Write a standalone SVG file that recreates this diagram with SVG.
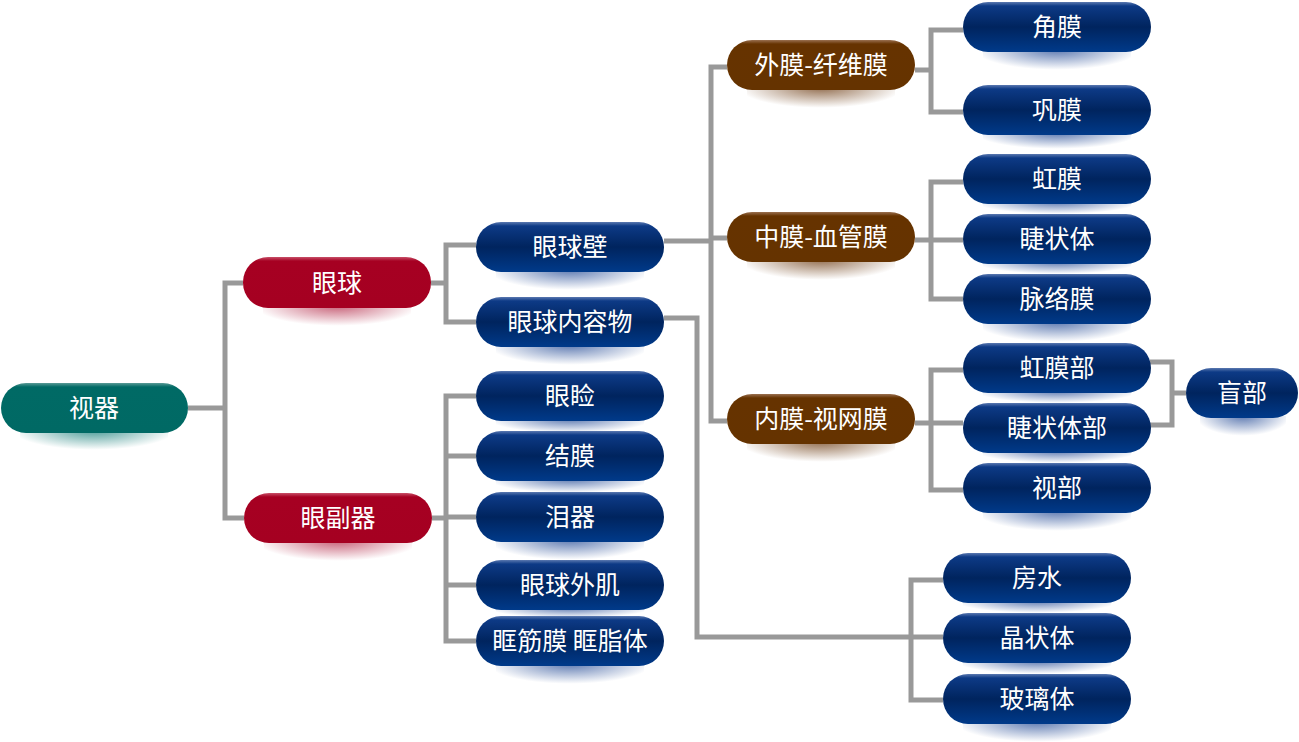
<svg xmlns="http://www.w3.org/2000/svg" width="1299" height="742" viewBox="0 0 1299 742">
<defs>
<style>
.c{fill:none;stroke:#999999;stroke-width:5;stroke-linejoin:miter}
.t{font-family:"Noto Sans CJK SC","Noto Sans",sans-serif;font-size:25px;fill:#ffffff;text-anchor:middle;dominant-baseline:central}
.bl{fill:url(#gB)}.rd{fill:url(#gR)}.br{fill:url(#gN)}.tl{fill:url(#gT)}
.sB{fill:url(#sB)}.sR{fill:url(#sR)}.sN{fill:url(#sN)}.sT{fill:url(#sT)}
</style>
<linearGradient id="gB" x1="0" y1="0" x2="0" y2="1">
<stop offset="0" stop-color="#5a78b0"/><stop offset="0.08" stop-color="#0d3a86"/><stop offset="0.5" stop-color="#00245e"/><stop offset="1" stop-color="#003a8a"/>
</linearGradient>
<linearGradient id="gR" x1="0" y1="0" x2="0" y2="1">
<stop offset="0" stop-color="#c85068"/><stop offset="0.08" stop-color="#a60022"/><stop offset="1" stop-color="#a50021"/>
</linearGradient>
<linearGradient id="gN" x1="0" y1="0" x2="0" y2="1">
<stop offset="0" stop-color="#9a7050"/><stop offset="0.08" stop-color="#663300"/><stop offset="1" stop-color="#653300"/>
</linearGradient>
<linearGradient id="gT" x1="0" y1="0" x2="0" y2="1">
<stop offset="0" stop-color="#5a9a96"/><stop offset="0.08" stop-color="#006a65"/><stop offset="1" stop-color="#006964"/>
</linearGradient>
<radialGradient id="sB" cx="0.5" cy="0" r="0.55" gradientTransform="translate(0.5 0) scale(1 1.8) translate(-0.5 0)"><stop offset="0" stop-color="#2a4f98" stop-opacity="0.75"/><stop offset="1" stop-color="#2a4f98" stop-opacity="0"/></radialGradient>
<radialGradient id="sR" cx="0.5" cy="0" r="0.55" gradientTransform="translate(0.5 0) scale(1 1.8) translate(-0.5 0)"><stop offset="0" stop-color="#b02040" stop-opacity="0.7"/><stop offset="1" stop-color="#b02040" stop-opacity="0"/></radialGradient>
<radialGradient id="sN" cx="0.5" cy="0" r="0.55" gradientTransform="translate(0.5 0) scale(1 1.8) translate(-0.5 0)"><stop offset="0" stop-color="#704018" stop-opacity="0.75"/><stop offset="1" stop-color="#704018" stop-opacity="0"/></radialGradient>
<radialGradient id="sT" cx="0.5" cy="0" r="0.55" gradientTransform="translate(0.5 0) scale(1 1.8) translate(-0.5 0)"><stop offset="0" stop-color="#107a75" stop-opacity="0.75"/><stop offset="1" stop-color="#107a75" stop-opacity="0"/></radialGradient>
</defs>
<g id="connectors">
<path class="c" d="M188 408H225M243 283H225V518H244"/>
<path class="c" d="M431 283H446M476 245H446V322H476"/>
<path class="c" d="M432 518H446M476 396H446V641H476M446 456H476M446 517H476M446 585H476"/>
<path class="c" d="M664 241H711M727 67H711V421H727M711 238H727"/>
<path class="c" d="M664 318H697V637H911M943 580H911V700H943M911 637H943"/>
<path class="c" d="M915 70H931M963 30H931V112H963"/>
<path class="c" d="M915 240H931M963 182H931V299H963M931 240H963"/>
<path class="c" d="M915 423H931M963 370H931V490H963M931 423H963"/>
<path class="c" d="M1150 362H1172V425H1150M1172 393H1186"/>
</g>
<g id="n-shiqi"><rect class="sT" x="20" y="430" width="148" height="20"/><rect class="tl" x="1" y="383" width="187" height="50" rx="25"/><text class="t" x="94" y="406">视器</text></g>
<g id="n-yanqiu"><rect class="sR" x="263" y="306" width="148" height="20"/><rect class="rd" x="243" y="257" width="188" height="51" rx="25"/><text class="t" x="337" y="281">眼球</text></g>
<g id="n-yanfuqi"><rect class="sR" x="264" y="541" width="148" height="20"/><rect class="rd" x="244" y="493" width="188" height="50" rx="25"/><text class="t" x="338" y="516">眼副器</text></g>
<g id="n-yanqiubi"><rect class="sB" x="496" y="270" width="148" height="20"/><rect class="bl" x="476" y="222" width="188" height="50" rx="25"/><text class="t" x="570" y="245">眼球壁</text></g>
<g id="n-neirongwu"><rect class="sB" x="496" y="345" width="148" height="20"/><rect class="bl" x="476" y="297" width="188" height="50" rx="25"/><text class="t" x="570" y="320">眼球内容物</text></g>
<g id="n-yanjian"><rect class="sB" x="496" y="419" width="148" height="14"/><rect class="bl" x="476" y="371" width="188" height="50" rx="25"/><text class="t" x="570" y="394">眼睑</text></g>
<g id="n-jiemo"><rect class="sB" x="496" y="479" width="148" height="14"/><rect class="bl" x="476" y="431" width="188" height="50" rx="25"/><text class="t" x="570" y="454">结膜</text></g>
<g id="n-leiqi"><rect class="sB" x="496" y="540" width="148" height="20"/><rect class="bl" x="476" y="492" width="188" height="50" rx="25"/><text class="t" x="570" y="515">泪器</text></g>
<g id="n-waiji"><rect class="sB" x="496" y="608" width="148" height="10"/><rect class="bl" x="476" y="560" width="188" height="50" rx="25"/><text class="t" x="570" y="583">眼球外肌</text></g>
<g id="n-kuang"><rect class="sB" x="496" y="664" width="148" height="20"/><rect class="bl" x="476" y="616" width="188" height="50" rx="25"/><text class="t" x="570" y="639">眶筋膜 眶脂体</text></g>
<g id="n-waimo"><rect class="sN" x="747" y="88" width="148" height="20"/><rect class="br" x="727" y="40" width="188" height="50" rx="25"/><text class="t" x="821" y="63">外膜-纤维膜</text></g>
<g id="n-zhongmo"><rect class="sN" x="747" y="260" width="148" height="20"/><rect class="br" x="727" y="212" width="188" height="50" rx="25"/><text class="t" x="821" y="235">中膜-血管膜</text></g>
<g id="n-neimo"><rect class="sN" x="747" y="442" width="148" height="20"/><rect class="br" x="727" y="394" width="188" height="50" rx="25"/><text class="t" x="821" y="417">内膜-视网膜</text></g>
<g id="n-jiaomo"><rect class="sB" x="983" y="50" width="148" height="20"/><rect class="bl" x="963" y="2" width="188" height="50" rx="25"/><text class="t" x="1057" y="25">角膜</text></g>
<g id="n-gongmo"><rect class="sB" x="983" y="133" width="148" height="16"/><rect class="bl" x="963" y="85" width="188" height="50" rx="25"/><text class="t" x="1057" y="108">巩膜</text></g>
<g id="n-hongmo"><rect class="sB" x="983" y="202" width="148" height="12"/><rect class="bl" x="963" y="154" width="188" height="50" rx="25"/><text class="t" x="1057" y="177">虹膜</text></g>
<g id="n-jiezhuangti"><rect class="sB" x="983" y="262" width="148" height="12"/><rect class="bl" x="963" y="214" width="188" height="50" rx="25"/><text class="t" x="1057" y="237">睫状体</text></g>
<g id="n-mailuomo"><rect class="sB" x="983" y="322" width="148" height="20"/><rect class="bl" x="963" y="274" width="188" height="50" rx="25"/><text class="t" x="1057" y="297">脉络膜</text></g>
<g id="n-hongmobu"><rect class="sB" x="983" y="391" width="148" height="12"/><rect class="bl" x="963" y="343" width="188" height="50" rx="25"/><text class="t" x="1057" y="366">虹膜部</text></g>
<g id="n-jiezhuangtibu"><rect class="sB" x="983" y="451" width="148" height="12"/><rect class="bl" x="963" y="403" width="188" height="50" rx="25"/><text class="t" x="1057" y="426">睫状体部</text></g>
<g id="n-shibu"><rect class="sB" x="983" y="511" width="148" height="20"/><rect class="bl" x="963" y="463" width="188" height="50" rx="25"/><text class="t" x="1057" y="486">视部</text></g>
<g id="n-mangbu"><rect class="sB" x="1200" y="416" width="86" height="20"/><rect class="bl" x="1186" y="368" width="112" height="50" rx="25"/><text class="t" x="1242" y="391">盲部</text></g>
<g id="n-fangshui"><rect class="sB" x="963" y="601" width="148" height="12"/><rect class="bl" x="943" y="553" width="188" height="50" rx="25"/><text class="t" x="1037" y="576">房水</text></g>
<g id="n-jingzhuangti"><rect class="sB" x="963" y="661" width="148" height="13"/><rect class="bl" x="943" y="613" width="188" height="50" rx="25"/><text class="t" x="1037" y="636">晶状体</text></g>
<g id="n-boliti"><rect class="sB" x="963" y="722" width="148" height="20"/><rect class="bl" x="943" y="674" width="188" height="50" rx="25"/><text class="t" x="1037" y="697">玻璃体</text></g>
</svg>
